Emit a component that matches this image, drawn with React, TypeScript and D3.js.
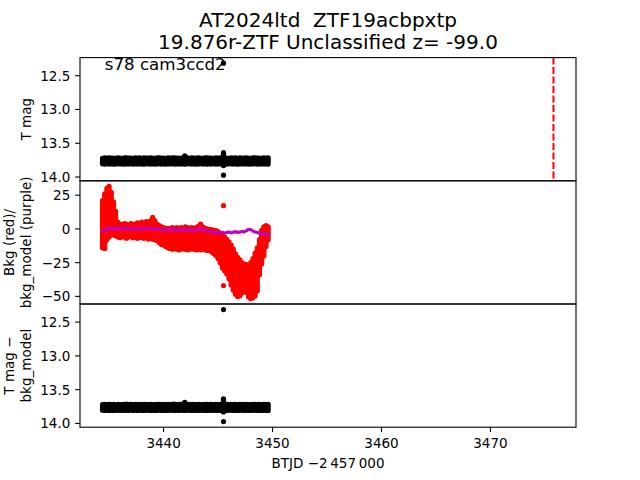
import React from "react";
import * as d3 from "d3";

const TITLE_LINES = ["AT2024ltd  ZTF19acbpxtp", "19.876r-ZTF Unclassified z= -99.0"];
const ANNOTATION = "s78 cam3ccd2";
const X_LABEL = "BTJD \u22122\u2009457\u2009000";
const Y_LABELS = [["T mag"], ["Bkg (red)/", "bkg_model (purple)"], ["T mag \u2212", "bkg_model"]];

const TIME = [
  3434.4, 3434.6, 3434.8, 3435.0, 3435.2, 3435.4, 3435.6, 3435.8, 3436.0, 3436.2,
  3436.4, 3436.6, 3436.8, 3437.0, 3437.2, 3437.4, 3437.6, 3437.8, 3438.0, 3438.2,
  3438.4, 3438.6, 3438.8, 3439.0, 3439.2, 3439.4, 3439.6, 3439.8, 3440.0, 3440.2,
  3440.4, 3440.6, 3440.8, 3441.0, 3441.2, 3441.4, 3441.6, 3441.8, 3442.0, 3442.2,
  3442.4, 3442.6, 3442.8, 3443.0, 3443.2, 3443.4, 3443.6, 3443.8, 3444.0, 3444.2,
  3444.4, 3444.6, 3444.8, 3445.0, 3445.2, 3445.4, 3445.6, 3445.8, 3446.0, 3446.2,
  3446.4, 3446.6, 3446.8, 3447.0, 3447.2, 3447.4, 3447.6, 3447.8, 3448.0, 3448.2,
  3448.4, 3448.6, 3448.8, 3449.0, 3449.2, 3449.4, 3449.6,
];

// T mag band (brightest / faintest point at each time step)
const MAG_BRIGHT = [
  13.722, 13.718, 13.72, 13.716, 13.721, 13.719, 13.724, 13.717, 13.72, 13.722,
  13.718, 13.715, 13.721, 13.719, 13.723, 13.717, 13.72, 13.718, 13.722, 13.716,
  13.719, 13.721, 13.717, 13.72, 13.723, 13.718, 13.716, 13.721, 13.719, 13.722,
  13.717, 13.72, 13.718, 13.715, 13.721, 13.719, 13.723, 13.712, 13.72, 13.718,
  13.722, 13.716, 13.719, 13.721, 13.717, 13.72, 13.723, 13.718, 13.716, 13.721,
  13.719, 13.722, 13.717, 13.72, 13.718, 13.715, 13.721, 13.719, 13.723, 13.717,
  13.72, 13.718, 13.722, 13.716, 13.719, 13.721, 13.717, 13.72, 13.723, 13.718,
  13.716, 13.721, 13.719, 13.722, 13.717, 13.72, 13.718,
];
const MAG_FAINT = [
  13.805, 13.808, 13.803, 13.807, 13.804, 13.809, 13.806, 13.802, 13.807, 13.805,
  13.808, 13.804, 13.806, 13.803, 13.809, 13.805, 13.807, 13.804, 13.806, 13.808,
  13.803, 13.805, 13.807, 13.804, 13.809, 13.806, 13.802, 13.807, 13.805, 13.808,
  13.804, 13.806, 13.803, 13.809, 13.805, 13.807, 13.804, 13.806, 13.808, 13.803,
  13.805, 13.807, 13.804, 13.809, 13.806, 13.802, 13.807, 13.805, 13.808, 13.804,
  13.806, 13.803, 13.809, 13.805, 13.807, 13.804, 13.806, 13.808, 13.803, 13.805,
  13.807, 13.804, 13.809, 13.806, 13.802, 13.807, 13.805, 13.808, 13.804, 13.806,
  13.803, 13.809, 13.805, 13.807, 13.804, 13.806, 13.808,
];
const SPIKE_T = [3441.95, 3445.5];
const SPIKE_BRIGHT = [13.688, 13.638];
const SPIKE_FAINT = [13.76, 13.83];
const MAG_OUT_T = [3445.5, 3445.5];
const MAG_OUT = [12.315, 13.973];

// Background flux (red) envelope and bkg_model (purple)
const BKG_HI = [
  21, 26, 30, 31.5, 27, 20, 13, 5, 3.5, 3,
  4, 3.5, 2.5, 4, 3.5, 3, 4.5, 3.5, 5, 4.5,
  5.5, 5, 6, 8.5, 6, 3.5, 2.5, 1.5, 1, 0.5,
  0.5, 0, 1, 0.5, 1, 0.5, 1, 0.5, 1.5, 1,
  0.5, 1, 0.5, 1, 2, 3.5, 1.5, 0.5, 0, -0.5,
  -0.5, -1, -1.3, -2, -3.5, -5, -6, -7.5, -9.5, -12,
  -15, -18.5, -21, -23, -25, -26, -26.5, -27.5, -25, -22,
  -18, -14, -8, -1, 1.5, 2.5, 1.5,
];
const BKG_LO = [
  -14, -14.5, -8, -6, -4, -4.5, -5, -6, -6.5, -5.5,
  -6, -7, -6, -5.5, -6.5, -6, -7, -6, -6.5, -7,
  -6, -7.5, -7, -7.5, -8, -8.5, -10, -11.5, -12, -13,
  -14, -14.5, -15, -14.5, -15, -15.5, -15, -14.5, -15, -15.5,
  -15, -14.5, -15, -15.5, -15, -15.5, -15, -15.5, -16, -16,
  -17, -18.5, -19.7, -22, -25, -29, -31, -33.5, -37, -41.5,
  -45.5, -48.5, -50, -49.5, -47.5, -46, -47, -50.5, -51.5, -51,
  -49.5, -46, -34, -26, -20, -13, -8,
];
const BKG_MODEL = [
  -1.2, -0.8, 0.2, 0.5, 0.3, 0.0, 0.2, 0.4, 0.1, 0.3,
  0.5, 0.2, 0.4, 0.3, 0.1, 0.4, 0.2, 0.5, 0.3, 0.1,
  0.4, 0.2, 0.0, 0.3, 0.1, -0.3, -0.1, -0.5, -0.2, -0.6,
  -0.3, -0.7, -0.4, -0.2, -0.6, -0.9, -0.5, -0.3, -0.7, -1.0,
  -0.6, -0.8, -1.1, -0.7, -0.2, 0.4, -0.3, -0.9, -1.4, -1.8,
  -2.2, -2.6, -2.3, -2.8, -3.0, -2.6, -3.1, -2.7, -2.4, -2.9,
  -2.5, -2.2, -2.6, -2.3, -1.9, -2.2, -1.4, -0.4, -0.6, -1.5,
  -2.3, -2.7, -3.2, -3.4, -3.8, -4.1, -4.4,
];
const BKG_OUT_T = [3445.5, 3445.5];
const BKG_OUT = [17.2, -42];

const EVENT_T = 3475.78;

const X_TICKS = [3440, 3450, 3460, 3470];
const MAG_TICKS = [12.5, 13.0, 13.5, 14.0];
const BKG_TICKS = [25, 0, -25, -50];

const FONT = "DejaVu Sans";

function padded(lo: number, hi: number): [number, number] {
  const r = hi - lo;
  return [lo - 0.05 * r, hi + 0.05 * r];
}

export default function App() {
  const W = 640, H = 480;
  const L = 80, R = 576, T = 57.6, B = 427.2;
  const ph = (B - T) / 3;
  const tops = [T, T + ph, T + 2 * ph];
  const tick = 4.86;
  const fs = 13.5;

  const xVals = [...TIME, EVENT_T];
  const x = d3.scaleLinear().domain(padded(d3.min(xVals)!, d3.max(xVals)!)).range([L, R]);

  const magVals = [...MAG_BRIGHT, ...MAG_FAINT, ...SPIKE_BRIGHT, ...SPIKE_FAINT, ...MAG_OUT];
  const magDom = padded(d3.min(magVals)!, d3.max(magVals)!);
  const yMag0 = d3.scaleLinear().domain(magDom).range([tops[0], tops[0] + ph]);
  const yMag2 = d3.scaleLinear().domain(magDom).range([tops[2], tops[2] + ph]);

  const bkgVals = [...BKG_HI, ...BKG_LO, ...BKG_MODEL, ...BKG_OUT];
  const yBkg = d3.scaleLinear().domain(padded(d3.min(bkgVals)!, d3.max(bkgVals)!)).range([tops[1] + ph, tops[1]]);

  const r = 2.6;

  const magPanel = (y: d3.ScaleLinear<number, number>, key: string) => (
    <g key={key}>
      {TIME.map((t, i) => (
        <line key={"b" + i} x1={x(t)} x2={x(t)} y1={y(MAG_BRIGHT[i])} y2={y(MAG_FAINT[i])}
          stroke="#000" strokeWidth={2 * r} strokeLinecap="round" />
      ))}
      {SPIKE_T.map((t, i) => (
        <line key={"s" + i} x1={x(t)} x2={x(t)} y1={y(SPIKE_BRIGHT[i])} y2={y(SPIKE_FAINT[i])}
          stroke="#000" strokeWidth={2 * r} strokeLinecap="round" />
      ))}
      {MAG_OUT_T.map((t, i) => (
        <circle key={"o" + i} cx={x(t)} cy={y(MAG_OUT[i])} r={r} fill="#000" />
      ))}
    </g>
  );

  const fmtBkg = (v: number) => (v < 0 ? "\u2212" + Math.abs(v) : String(v));

  const yAxis = (y: d3.ScaleLinear<number, number>, ticks: number[], fmt: (v: number) => string, key: string) => (
    <g key={key}>
      {ticks.map((v) => (
        <g key={v}>
          <line x1={L - tick} x2={L} y1={y(v)} y2={y(v)} stroke="#000" strokeWidth={1.1} />
          <text x={L - tick - 4.86} y={y(v)} dy="0.36em" textAnchor="end" fontSize={fs} fontFamily={FONT}>{fmt(v)}</text>
        </g>
      ))}
    </g>
  );

  const yLabel = (lines: string[], cy: number, key: string) => {
    const base = 30.5;
    const step = 16.2;
    return (
      <g key={key}>
        {lines.map((s, i) => {
          const bx = base - (lines.length - 1 - i) * step;
          return (
            <text key={i} transform={`translate(${bx},${cy}) rotate(-90)`} textAnchor="middle"
              fontSize={fs} fontFamily={FONT}>{s}</text>
          );
        })}
      </g>
    );
  };

  return (
    <svg width={W} height={H} style={{ position: "absolute", left: 0, top: 0, background: "#fff" }}>
      <rect x={0} y={0} width={W} height={H} fill="#fff" />
      <defs>
        {tops.map((tp, i) => (
          <clipPath id={"clip" + i} key={i}>
            <rect x={L} y={tp} width={R - L} height={ph} />
          </clipPath>
        ))}
      </defs>

      {/* titles */}
      {TITLE_LINES.map((s, i) => (
        <text key={i} x={(L + R) / 2} y={[26.8, 49.3][i]} textAnchor="middle" fontSize={20} fontFamily={FONT}
          style={{ whiteSpace: "pre" }}>{s}</text>
      ))}

      {/* panel 1 */}
      <g clipPath="url(#clip0)">
        {magPanel(yMag0, "m0")}
        <line x1={x(EVENT_T)} x2={x(EVENT_T)} y1={tops[0]} y2={tops[0] + ph} stroke="#ff0000"
          strokeWidth={2} strokeDasharray="6.8 2.7" />
      </g>
      <text x={L + 0.05 * (R - L)} y={70} fontSize={16.67} fontFamily={FONT}>{ANNOTATION}</text>

      {/* panel 2 */}
      <g clipPath="url(#clip1)">
        {TIME.map((t, i) => (
          <line key={"r" + i} x1={x(t)} x2={x(t)} y1={yBkg(BKG_HI[i])} y2={yBkg(BKG_LO[i])}
            stroke="#ff0000" strokeWidth={2 * r} strokeLinecap="round" />
        ))}
        {BKG_OUT_T.map((t, i) => (
          <circle key={"ro" + i} cx={x(t)} cy={yBkg(BKG_OUT[i])} r={r} fill="#ff0000" />
        ))}
        {TIME.map((t, i) => (
          <circle key={"p" + i} cx={x(t)} cy={yBkg(BKG_MODEL[i])} r={1.8} fill="#bf00bf" />
        ))}
      </g>

      {/* panel 3 */}
      <g clipPath="url(#clip2)">{magPanel(yMag2, "m2")}</g>

      {/* frames */}
      {tops.map((tp, i) => (
        <rect key={"f" + i} x={L} y={tp} width={R - L} height={ph} fill="none" stroke="#000" strokeWidth={1.1} />
      ))}

      {/* y axes */}
      {yAxis(yMag0, MAG_TICKS, (v) => v.toFixed(1), "ya0")}
      {yAxis(yBkg, BKG_TICKS, fmtBkg, "ya1")}
      {yAxis(yMag2, MAG_TICKS, (v) => v.toFixed(1), "ya2")}

      {/* x axis */}
      {X_TICKS.map((v) => (
        <g key={v}>
          <line x1={x(v)} x2={x(v)} y1={B} y2={B + tick} stroke="#000" strokeWidth={1.1} />
          <text x={x(v)} y={448.3} textAnchor="middle" fontSize={fs} fontFamily={FONT}>{String(v)}</text>
        </g>
      ))}
      <text x={(L + R) / 2} y={468} textAnchor="middle" fontSize={fs} fontFamily={FONT}>{X_LABEL}</text>

      {/* y labels */}
      {Y_LABELS.map((lines, i) => yLabel(lines, tops[i] + ph / 2, "yl" + i))}
    </svg>
  );
}
